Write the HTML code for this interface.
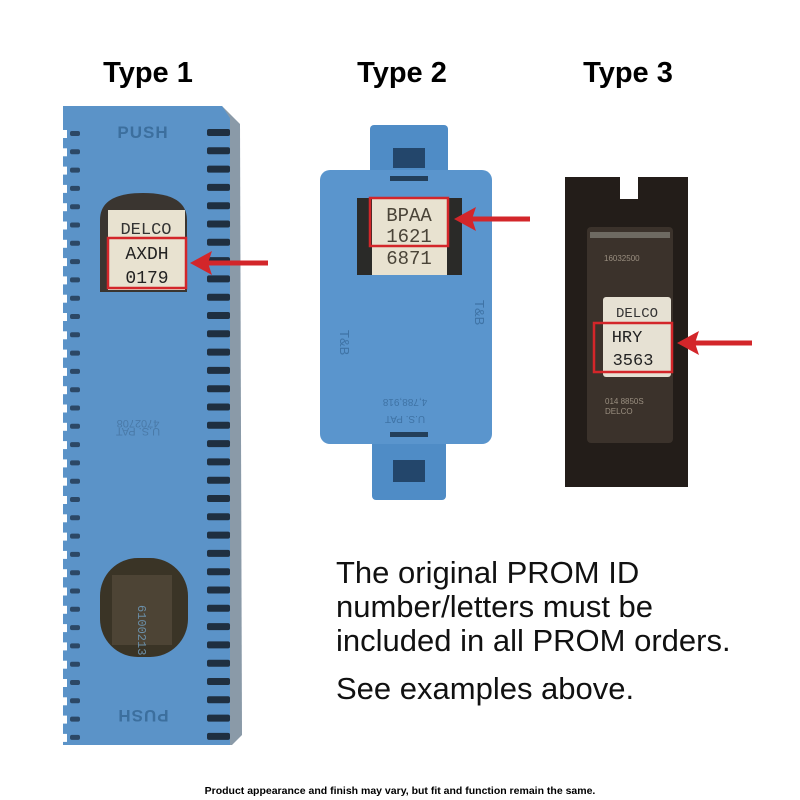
<!DOCTYPE html>
<html><head><meta charset="utf-8"><style>
html,body{margin:0;padding:0;background:#fff;width:800px;height:800px;overflow:hidden}
svg{display:block}
.t{font-family:"Liberation Sans",Arial,sans-serif}
.m{font-family:"Liberation Mono",monospace}
</style></head><body>
<svg width="800" height="800" viewBox="0 0 800 800" xmlns="http://www.w3.org/2000/svg">
<rect width="800" height="800" fill="#fff"/>
<text x="148" y="82" class="t" font-size="29" font-weight="bold" text-anchor="middle" fill="#000">Type 1</text>
<text x="402" y="82" class="t" font-size="29" font-weight="bold" text-anchor="middle" fill="#000">Type 2</text>
<text x="628" y="82" class="t" font-size="29" font-weight="bold" text-anchor="middle" fill="#000">Type 3</text>

<!-- Type 1 -->
<path d="M66 106 L222 106 L240 124 L242 735 L232 745 L66 745 Z" fill="#8a9aa8"/>
<path d="M63 106 L222 106 L230 118 L230 745 L63 745 Z" fill="#5b93c8"/>
<g id="teeth"></g>
<text x="143" y="138" class="t" font-size="17" font-weight="bold" text-anchor="middle" fill="#3c6f9e" letter-spacing="1">PUSH</text>
<text x="143" y="722" class="t" font-size="17" font-weight="bold" text-anchor="middle" fill="#3c6f9e" letter-spacing="1" transform="rotate(180 143 716)">PUSH</text>
<text x="138" y="420" class="t" font-size="11" text-anchor="middle" fill="#4a7aa8" transform="rotate(180 138 420)">4702708</text>
<text x="138" y="436" class="t" font-size="11" text-anchor="middle" fill="#4a7aa8" transform="rotate(180 138 432)">U.S. PAT</text>
<path d="M100 292 L100 220 Q100 193 143 193 Q187 193 187 220 L187 292 Z" fill="#3a3530"/>
<rect x="108" y="210" width="77" height="80" fill="#e8e2d0"/>
<text x="146" y="234" class="m" font-size="17" text-anchor="middle" fill="#333">DELCO</text>
<text x="147" y="259" class="m" font-size="18" text-anchor="middle" fill="#222">AXDH</text>
<text x="147" y="283" class="m" font-size="18" text-anchor="middle" fill="#222">0179</text>
<rect x="108" y="238" width="78" height="50" fill="none" stroke="#d3262a" stroke-width="2.5"/>
<rect x="100" y="558" width="88" height="99" rx="38" fill="#3a3426"/>
<rect x="112" y="575" width="60" height="70" fill="#5a5040" opacity="0.6"/>
<text x="148" y="615" class="m" font-size="12" fill="#6b8fa8" transform="rotate(90 148 605)">6100213</text>
<line x1="268" y1="263" x2="205" y2="263" stroke="#d3262a" stroke-width="5"/>
<polygon points="190,263 212,251 208,263 212,275" fill="#d3262a"/>

<!-- Type 2 -->
<rect x="370" y="125" width="78" height="55" rx="4" fill="#4f8cc6"/>
<rect x="393" y="148" width="32" height="20" fill="#23466b"/>
<rect x="372" y="430" width="74" height="70" rx="4" fill="#4f8cc6"/>
<rect x="393" y="460" width="32" height="22" fill="#23466b"/>
<rect x="320" y="170" width="172" height="274" rx="10" fill="#5a95cd"/>
<rect x="390" y="176" width="38" height="5" fill="#233f5a"/>
<rect x="390" y="432" width="38" height="5" fill="#233f5a"/>
<rect x="357" y="198" width="105" height="77" fill="#2a2a28"/>
<rect x="372" y="198" width="75" height="77" fill="#e8e2d0"/>
<text x="409" y="221" class="m" font-size="19" text-anchor="middle" fill="#4a4438">BPAA</text>
<text x="409" y="242" class="m" font-size="19" text-anchor="middle" fill="#4a4438">1621</text>
<text x="409" y="264" class="m" font-size="19" text-anchor="middle" fill="#4a4438">6871</text>
<rect x="370" y="198" width="78" height="48" fill="none" stroke="#d3262a" stroke-width="2.5"/>
<text x="340" y="330" class="t" font-size="13" fill="#3f73a5" transform="rotate(90 340 330)">T&amp;B</text>
<text x="475" y="300" class="t" font-size="13" fill="#3f73a5" transform="rotate(90 475 300)">T&amp;B</text>
<text x="405" y="405" class="t" font-size="10" text-anchor="middle" fill="#3f73a5" transform="rotate(180 405 402)">4,788,918</text>
<text x="405" y="422" class="t" font-size="10" text-anchor="middle" fill="#3f73a5" transform="rotate(180 405 419)">U.S. PAT</text>
<line x1="530" y1="219" x2="470" y2="219" stroke="#d3262a" stroke-width="5"/>
<polygon points="454,219 476,207 472,219 476,231" fill="#d3262a"/>

<!-- Type 3 -->
<rect x="565" y="177" width="123" height="310" fill="#231d19"/>
<rect x="620" y="177" width="18" height="22" fill="#fff"/>
<rect x="587" y="227" width="86" height="216" rx="4" fill="#3b322b"/>
<rect x="590" y="232" width="80" height="6" fill="#6e6a62"/>
<text x="604" y="261" class="t" font-size="8" fill="#9a8f80">16032500</text>
<rect x="603" y="297" width="68" height="80" rx="3" fill="#e6e1d3"/>
<text x="637" y="317" class="m" font-size="14" text-anchor="middle" fill="#333">DELCO</text>
<text x="627" y="342" class="m" font-size="17" text-anchor="middle" fill="#222">HRY</text>
<text x="633" y="365" class="m" font-size="17" text-anchor="middle" fill="#222">3563</text>
<rect x="594" y="323" width="78" height="49" fill="none" stroke="#d3262a" stroke-width="2.5"/>
<text x="605" y="404" class="t" font-size="8" fill="#9a8f80">014 8850S</text>
<text x="605" y="414" class="t" font-size="8" fill="#9a8f80">DELCO</text>
<line x1="752" y1="343" x2="693" y2="343" stroke="#d3262a" stroke-width="5"/>
<polygon points="677,343 699,331 695,343 699,355" fill="#d3262a"/>

<text class="t" font-size="31" fill="#111"><tspan x="336" y="583">The original PROM ID</tspan><tspan x="336" y="617">number/letters must be</tspan><tspan x="336" y="651">included in all PROM orders.</tspan><tspan x="336" y="699">See examples above.</tspan></text>
<text x="400" y="794" class="t" font-size="10.5" font-weight="bold" text-anchor="middle" fill="#000">Product appearance and finish may vary, but fit and function remain the same.</text>
</svg>
<script>
(function(){
var ns="http://www.w3.org/2000/svg",g=document.getElementById("teeth");
for(var y=130;y<740;y+=18.3){
 var a=document.createElementNS(ns,"rect");
 a.setAttribute("x",57);a.setAttribute("y",y);a.setAttribute("width",10);a.setAttribute("height",8);a.setAttribute("fill","#fff");g.appendChild(a);
 var c=document.createElementNS(ns,"rect");
 c.setAttribute("x",70);c.setAttribute("y",y+1);c.setAttribute("width",10);c.setAttribute("height",5);c.setAttribute("rx",2);c.setAttribute("fill","#2c4866");g.appendChild(c);
 var b=document.createElementNS(ns,"rect");
 b.setAttribute("x",207);b.setAttribute("y",y-1);b.setAttribute("width",23);b.setAttribute("height",7);b.setAttribute("rx",2);b.setAttribute("fill","#1f2f40");g.appendChild(b);
}
})();
</script>
</body></html>
